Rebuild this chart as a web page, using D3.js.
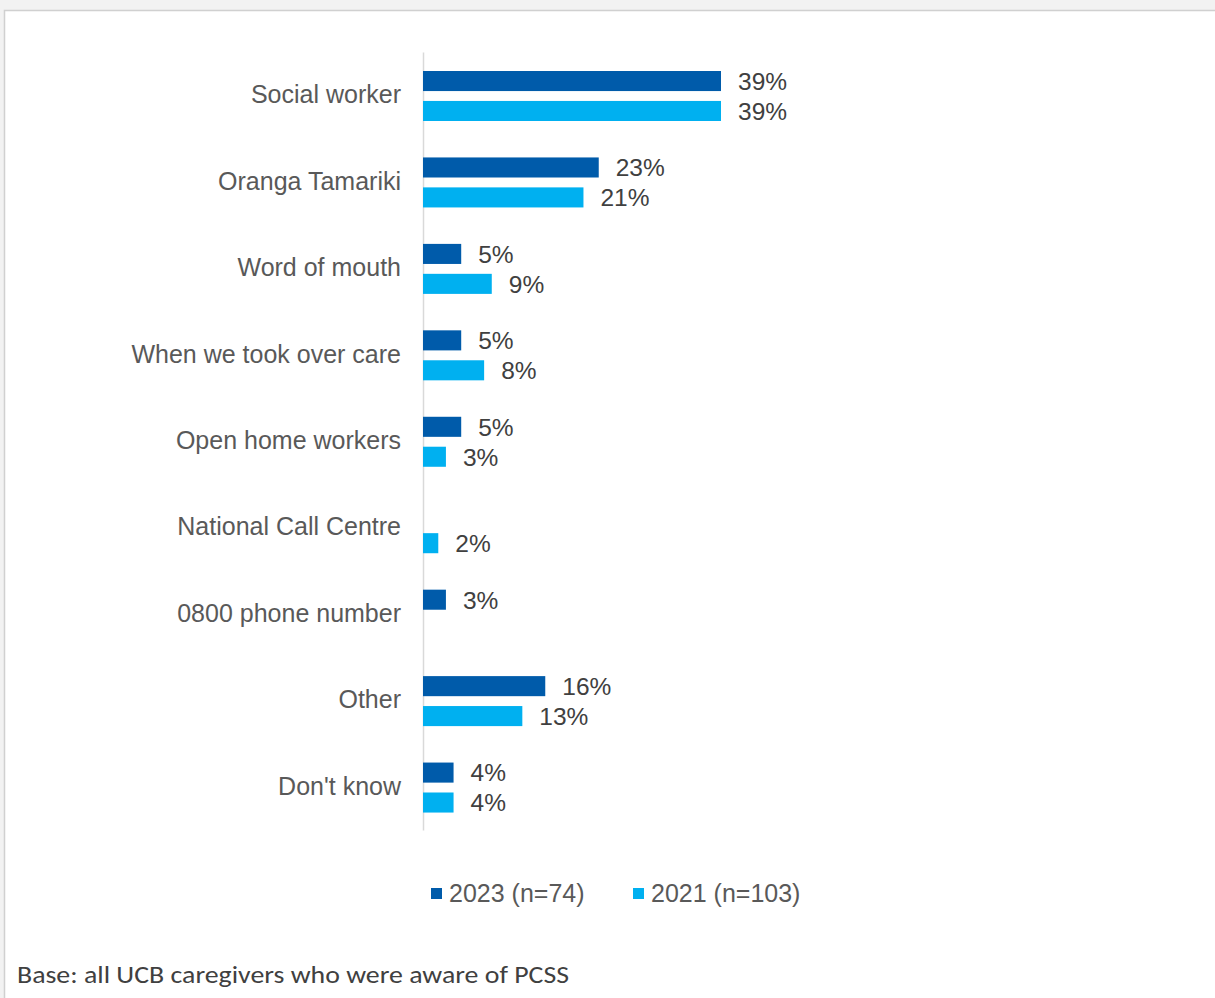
<!DOCTYPE html>
<html>
<head>
<meta charset="utf-8">
<script src="https://cdn.jsdelivr.net/npm/d3@7/dist/d3.min.js"></script>
<style>
  html, body { margin: 0; padding: 0; background: #f2f2f2; }
  svg { display: block; }
</style>
</head>
<body>
<svg id="chart" width="1215" height="998"></svg>
<script>
// Source of awareness, share of caregivers by survey year
const categories = [
  "Social worker",
  "Oranga Tamariki",
  "Word of mouth",
  "When we took over care",
  "Open home workers",
  "National Call Centre",
  "0800 phone number",
  "Other",
  "Don't know"
];
const seriesNames = ["2023 (n=74)", "2021 (n=103)"];
const values2023 = [39, 23, 5, 5, 5, null, 3, 16, 4];
const values2021 = [39, 21, 9, 8, 3, 2, null, 13, 4];
const footnote = "Base: all UCB caregivers who were aware of PCSS";

const colors = ["#005BAA", "#00B0F0"];
const valueColor = "#404040";
const labelColor = "#595959";

const svg = d3.select("#chart");
const W = 1215, H = 998;

// panel background with a thin frame
svg.append("rect").attr("x", 0).attr("y", 0).attr("width", W).attr("height", H).attr("fill", "#f2f2f2");
svg.append("rect").attr("x", 4.5).attr("y", 10.5).attr("width", W).attr("height", H)
  .attr("fill", "#ffffff").attr("stroke", "#d0d0d0").attr("stroke-width", 1.5);

const plot = { left: 423, top: 52, bottom: 830 };

const x = d3.scaleLinear().domain([0, 39]).range([plot.left, 721]);
const y = d3.scaleBand().domain(categories).range([plot.top, plot.bottom]).paddingInner(0).paddingOuter(0);
const inner = d3.scaleBand().domain([0, 1]).range([19, 69]).paddingInner(0.33).paddingOuter(0);

const rows = categories.map((c, i) => ({ cat: c, vals: [values2023[i], values2021[i]] }));

const g = svg.append("g");

// category axis (left) – line only, labels right-aligned
const yAxis = d3.axisLeft(y).tickSize(0).tickPadding(22);
const axisG = g.append("g").attr("transform", `translate(${plot.left},0)`).call(yAxis);
axisG.select(".domain").attr("stroke", "#d9d9d9").attr("stroke-width", 1.5);
axisG.selectAll("text")
  .attr("font-family", "Liberation Sans, Arial, sans-serif")
  .attr("font-size", 25)
  .attr("fill", labelColor)
  .attr("dy", "0.32em");

const groups = g.selectAll("g.row").data(rows).join("g")
  .attr("class", "row")
  .attr("transform", d => `translate(0,${y(d.cat)})`);

groups.each(function(d) {
  const sel = d3.select(this);
  d.vals.forEach((v, k) => {
    if (v === null) return;
    sel.append("rect")
      .attr("x", x(0))
      .attr("y", inner(k))
      .attr("width", x(v) - x(0))
      .attr("height", inner.bandwidth())
      .attr("fill", colors[k]);
    sel.append("text")
      .attr("x", x(v) + 17)
      .attr("y", inner(k) + inner.bandwidth() / 2)
      .attr("dy", "0.36em")
      .attr("font-family", "Liberation Sans, Arial, sans-serif")
      .attr("font-size", 24.5)
      .attr("fill", valueColor)
      .text(v + "%");
  });
});

// legend
const legendItems = [{ x: 431 }, { x: 633 }];
const legend = svg.append("g").attr("transform", "translate(0,893)");
seriesNames.forEach((name, k) => {
  legend.append("rect")
    .attr("x", legendItems[k].x).attr("y", -5)
    .attr("width", 11).attr("height", 11)
    .attr("fill", colors[k]);
  legend.append("text")
    .attr("x", legendItems[k].x + 18).attr("y", 0)
    .attr("dy", "0.36em")
    .attr("font-family", "Liberation Sans, Arial, sans-serif")
    .attr("font-size", 25)
    .attr("fill", labelColor)
    .text(name);
});

// base note
svg.append("text")
  .attr("x", 17).attr("y", 983)
  .attr("font-family", "Carlito, 'Liberation Sans Narrow', 'Open Sans', sans-serif")
  .attr("font-size", 25)
  .attr("fill", "#404040")
  .attr("textLength", 552)
  .attr("lengthAdjust", "spacingAndGlyphs")
  .text(footnote);
</script>
</body>
</html>
